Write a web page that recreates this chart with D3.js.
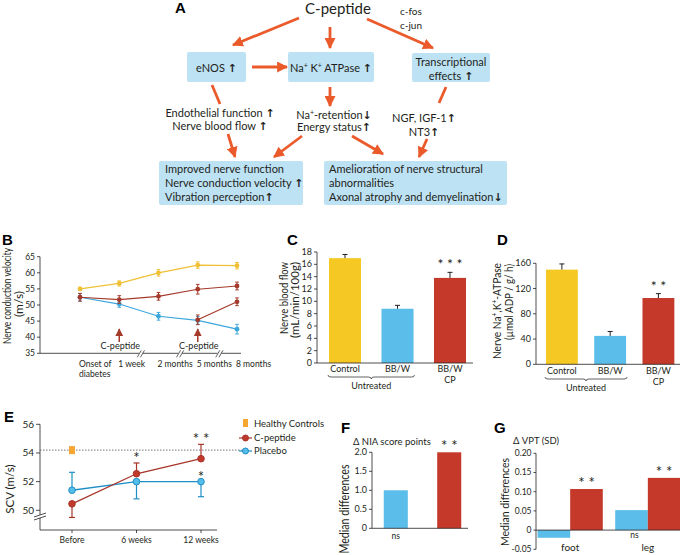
<!DOCTYPE html>
<html><head><meta charset="utf-8">
<script src="https://cdn.jsdelivr.net/npm/d3@7"></script>
<style>
body{margin:0;background:#fff}
svg{display:block}
text{font-family:Lato,"Open Sans",sans-serif;fill:#231f20}
.lbl{font-family:"Liberation Sans",Arial,sans-serif;font-weight:bold;font-size:15px;fill:#000}
</style>
</head><body><script>
// ---------------- DATA ----------------
const bCategories = ["Onset of|diabetes", "1 week", "2 months", "5 months", "8 months"];
const bYTicks = [35, 40, 45, 50, 55, 60, 65];
const bHealthy = [55.0, 56.7, 60.0, 62.4, 62.2];
const bHealthyErr = [0.5, 0.8, 1.0, 1.0, 1.0];
const bEarlyCP = [52.4, 51.7, 52.7, 54.9, 55.9];
const bEarlyCPErr = [1.2, 1.2, 1.2, 1.5, 1.2];
const bUntreated = [52.4, 50.3, 46.5, 45.2, 42.5];
const bUntreatedErr = [1.2, 1.0, 1.2, 1.2, 1.5];
const bLateCP = [null, null, null, 45.4, 51.0];
const bLateCPErr = [null, null, null, 1.5, 1.2];
const bArrowAt = ["1 week", "5 months"];

const cCategories = ["Control", "BB/W", "BB/W|CP"];
const cValues = [17.0, 8.8, 13.8];
const cErr = [0.6, 0.55, 0.9];
const cSig = ["", "", "***"];
const cYTicks = [0, 2, 4, 6, 8, 10, 12, 14, 16, 18];

const dCategories = ["Control", "BB/W", "BB/W|CP"];
const dValues = [150, 45, 105];
const dErr = [9, 7, 7];
const dSig = ["", "", "**"];
const dYTicks = [0, 40, 80, 120, 160];

const eCategories = ["Before", "6 weeks", "12 weeks"];
const eCPeptide = [50.45, 52.55, 53.6];
const eCPeptideErr = [-0.95, 0.75, 1.0];   // sign = direction of the drawn half bar
const ePlacebo = [51.4, 52.0, 52.0];
const ePlaceboErr = [1.25, -1.2, -1.05];
const eHealthy = [54.2];
const eSigCP = ["", "*", "**"];
const eSigPl = ["", "", "*"];
const eYTicks = [50, 52, 54, 56];
const eLegend = ["Healthy Controls", "C-peptide", "Placebo"];

const fCategories = ["Placebo", "C-peptide"];
const fValues = [1.0, 2.0];
const fXLabels = ["ns", ""];
const fSig = ["", "**"];
const fYTicks = [0, 0.5, 1.0, 1.5, 2.0];

const gGroups = ["foot", "leg"];
const gPlacebo = [-0.02, 0.052];
const gCPeptide = [0.107, 0.136];
const gSig = ["**", "**"];
const gNs = ["", "ns"];
const gYTicks = [-0.05, 0, 0.05, 0.10, 0.15, 0.20];

// ---------------- STYLE ----------------
const ORANGE = "#eb5a2b", BOX = "#bde2f4";
const YEL = "#f5c823", BLU = "#5bbde9", RED = "#c4392a";
const LYEL = "#f0c034", LBRN = "#a53a2b", LBLU = "#3ba7dc";
const INK = "#231f20";

const svg = d3.select("body").append("svg").attr("width", 680).attr("height", 555);
svg.append("rect").attr("width", 680).attr("height", 555).attr("fill", "#fff");
const defs = svg.append("defs");
function marker(id, color, size) {
  defs.append("marker").attr("id", id).attr("markerUnits", "userSpaceOnUse")
    .attr("viewBox", "0 0 10 10").attr("refX", 9).attr("refY", 5)
    .attr("markerWidth", size).attr("markerHeight", size).attr("orient", "auto")
    .append("path").attr("d", "M0,0L10,5L0,10Z").attr("fill", color);
}
marker("ah", ORANGE, 11);
marker("ahr", LBRN, 8);

function arrowTxt(sel, ch) {
  sel.append("tspan").attr("font-family", "DejaVu Sans").attr("font-weight", "bold").text(ch);
}

// ---------------- PANEL A ----------------
const A = svg.append("g");
A.append("text").attr("class", "lbl").attr("x", 175).attr("y", 13).text("A");
A.append("text").attr("x", 338).attr("y", 14).attr("text-anchor", "middle").attr("font-size", 15).text("C-peptide");
A.append("text").attr("x", 400).attr("y", 15).attr("font-size", 10).text("c-fos");
A.append("text").attr("x", 400).attr("y", 29).attr("font-size", 10).text("c-jun");

const boxes = [[187, 52, 59, 30], [288, 52, 86, 30], [412, 53, 78, 29], [159, 161, 144, 44], [324, 161, 183, 44]];
A.selectAll("rect.box").data(boxes).join("rect").attr("class", "box")
  .attr("x", d => d[0]).attr("y", d => d[1]).attr("width", d => d[2]).attr("height", d => d[3])
  .attr("rx", 2).attr("fill", BOX);

let t = A.append("text").attr("x", 216.5).attr("y", 71.5).attr("text-anchor", "middle").attr("font-size", 11);
t.append("tspan").text("eNOS "); arrowTxt(t, "↑");
t = A.append("text").attr("x", 331).attr("y", 71.5).attr("text-anchor", "middle").attr("font-size", 11);
t.append("tspan").text("Na"); t.append("tspan").attr("dy", -4).attr("font-size", 7).text("+");
t.append("tspan").attr("dy", 4).text(" K"); t.append("tspan").attr("dy", -4).attr("font-size", 7).text("+");
t.append("tspan").attr("dy", 4).text(" ATPase  "); arrowTxt(t, "↑");
A.append("text").attr("x", 451).attr("y", 66).attr("text-anchor", "middle").attr("font-size", 11).text("Transcriptional");
t = A.append("text").attr("x", 451).attr("y", 80).attr("text-anchor", "middle").attr("font-size", 11);
t.append("tspan").text("effects "); arrowTxt(t, "↑");

t = A.append("text").attr("x", 220).attr("y", 117).attr("text-anchor", "middle").attr("font-size", 11);
t.append("tspan").text("Endothelial function "); arrowTxt(t, "↑");
t = A.append("text").attr("x", 220).attr("y", 130).attr("text-anchor", "middle").attr("font-size", 11);
t.append("tspan").text("Nerve blood flow "); arrowTxt(t, "↑");
t = A.append("text").attr("x", 334).attr("y", 119).attr("text-anchor", "middle").attr("font-size", 11);
t.append("tspan").text("Na"); t.append("tspan").attr("dy", -4).attr("font-size", 7).text("+");
t.append("tspan").attr("dy", 4).text("-retention"); arrowTxt(t, "↓");
t = A.append("text").attr("x", 334).attr("y", 131).attr("text-anchor", "middle").attr("font-size", 11);
t.append("tspan").text("Energy status"); arrowTxt(t, "↑");
t = A.append("text").attr("x", 424).attr("y", 122).attr("text-anchor", "middle").attr("font-size", 11);
t.append("tspan").text("NGF, IGF-1"); arrowTxt(t, "↑");
t = A.append("text").attr("x", 424).attr("y", 136).attr("text-anchor", "middle").attr("font-size", 11);
t.append("tspan").text("NT3"); arrowTxt(t, "↑");

const bl = ["Improved nerve function", "Nerve conduction velocity ", "Vibration perception"];
const blArr = ["", "↑", "↑"];
bl.forEach((s, i) => {
  const tt = A.append("text").attr("x", 165).attr("y", 173 + i * 14).attr("font-size", 11);
  tt.append("tspan").text(s); if (blArr[i]) arrowTxt(tt, blArr[i]);
});
const br = ["Amelioration of nerve structural", "abnormalities", "Axonal atrophy and demyelination"];
const brArr = ["", "", "↓"];
br.forEach((s, i) => {
  const tt = A.append("text").attr("x", 329).attr("y", 173 + i * 14).attr("font-size", 11);
  tt.append("tspan").text(s); if (brArr[i]) arrowTxt(tt, brArr[i]);
});

const arrows = [
  [299, 18, 233, 45, 1], [330, 27, 330, 48, 1], [367, 19, 433, 48, 1], [252, 67, 287, 67, 1],
  [212, 85, 220, 104, 0], [330, 87, 330, 106, 1], [446, 87, 439, 103, 0],
  [228, 134, 235, 157, 1], [302, 136, 274, 157, 1], [352, 136, 383, 154, 1], [427, 139, 419, 157, 1]
];
A.selectAll("line.ar").data(arrows).join("line").attr("class", "ar")
  .attr("x1", d => d[0]).attr("y1", d => d[1]).attr("x2", d => d[2]).attr("y2", d => d[3])
  .attr("stroke", ORANGE).attr("stroke-width", 2.8)
  .attr("marker-end", d => d[4] ? "url(#ah)" : null);

// ---------------- helpers ----------------
function yAxisTicks(g, y, ticks, x, fmt, fs, len) {
  g.append("line").attr("x1", x).attr("x2", x).attr("y1", y(d3.min(ticks))).attr("y2", y(d3.max(ticks)))
    .attr("stroke", INK).attr("stroke-width", 0.8);
  g.selectAll(null).data(ticks).join("line").attr("x1", x - len).attr("x2", x)
    .attr("y1", d => y(d)).attr("y2", d => y(d)).attr("stroke", INK).attr("stroke-width", 0.8);
  g.selectAll(null).data(ticks).join("text").attr("x", x - len - 2).attr("y", d => y(d) + fs * 0.35)
    .attr("text-anchor", "end").attr("font-size", fs).text(fmt);
}
function rotTitle(g, lines, xs, ycs, fs, lens) {
  lines.forEach((s, i) => {
    const tt = g.append("text").attr("transform", `translate(${xs[i]},${ycs[i]}) rotate(-90)`)
      .attr("text-anchor", "middle").attr("font-size", fs).text(s);
    if (lens && lens[i]) tt.attr("textLength", lens[i]).attr("lengthAdjust", "spacingAndGlyphs");
  });
}
function errBar(g, x, y0, y1, cap, color, w) {
  g.append("line").attr("x1", x).attr("x2", x).attr("y1", y0).attr("y2", y1).attr("stroke", color).attr("stroke-width", w);
  g.append("line").attr("x1", x - cap).attr("x2", x + cap).attr("y1", y1).attr("y2", y1).attr("stroke", color).attr("stroke-width", w);
}

// ---------------- PANEL B ----------------
const B = svg.append("g");
B.append("text").attr("class", "lbl").attr("x", 2).attr("y", 245).text("B");
const bx = d3.scalePoint().domain(bCategories).range([80, 237]);
const by = d3.scaleLinear().domain([35, 65]).range([353.3, 256.7]);
yAxisTicks(B, by, bYTicks, 40, d => d, 8.5, 3);
B.append("line").attr("x1", 40).attr("x2", 241).attr("y1", by(35)).attr("y2", by(35)).attr("stroke", INK).attr("stroke-width", 0.8);
rotTitle(B, ["Nerve conduction velocity", "(m/s)"], [11, 23], [296, 304], 12, [96, 26]);
bCategories.forEach((c, i) => {
  c.split("|").forEach((s, j) => {
    B.append("text").attr("x", bx(c) - 1).attr("y", 367 + j * 10).attr("font-size", 8.5).text(s);
  });
});
const bBreaks = bCategories.slice(1, 4).map((c, i) => (bx(c) + bx(bCategories[i + 2])) / 2 + 2);
bBreaks.forEach(x => {
  B.append("rect").attr("x", x - 2).attr("y", by(35) - 1).attr("width", 4).attr("height", 2).attr("fill", "#fff");
  [-1.6, 1.6].forEach(o => B.append("line").attr("x1", x + o - 2).attr("x2", x + o + 2).attr("y1", by(35) + 4).attr("y2", by(35) - 3)
    .attr("stroke", INK).attr("stroke-width", 0.7));
});
function bSeries(vals, errs, color) {
  const pts = bCategories.map((c, i) => ({ c, v: vals[i], e: errs[i] })).filter(d => d.v != null);
  B.append("path").datum(pts).attr("fill", "none").attr("stroke", color).attr("stroke-width", 1.2)
    .attr("d", d3.line().x(d => bx(d.c)).y(d => by(d.v)));
  pts.forEach(d => {
    B.append("line").attr("x1", bx(d.c)).attr("x2", bx(d.c)).attr("y1", by(d.v - d.e)).attr("y2", by(d.v + d.e)).attr("stroke", color).attr("stroke-width", 1);
    [d.v - d.e, d.v + d.e].forEach(v => B.append("line").attr("x1", bx(d.c) - 1.8).attr("x2", bx(d.c) + 1.8)
      .attr("y1", by(v)).attr("y2", by(v)).attr("stroke", color).attr("stroke-width", 1));
    B.append("circle").attr("cx", bx(d.c)).attr("cy", by(d.v)).attr("r", 2.4).attr("fill", color);
  });
}
bSeries(bUntreated, bUntreatedErr, LBLU);
bSeries(bEarlyCP, bEarlyCPErr, LBRN);
bSeries(bLateCP, bLateCPErr, LBRN);
bSeries(bHealthy, bHealthyErr, LYEL);
bArrowAt.forEach(c => {
  B.append("line").attr("x1", bx(c)).attr("x2", bx(c)).attr("y1", 342).attr("y2", 329)
    .attr("stroke", LBRN).attr("stroke-width", 1.5).attr("marker-end", "url(#ahr)");
  B.append("text").attr("x", bx(c) + 1).attr("y", 349).attr("text-anchor", "middle").attr("font-size", 9).text("C-peptide");
});

// ---------------- bar panels C, D ----------------
function bracePath(x1, x2, y) {
  const m = (x1 + x2) / 2;
  return `M${x1},${y - 2} Q${x1},${y} ${x1 + 3},${y} L${m - 3},${y} Q${m},${y} ${m},${y + 2} Q${m},${y} ${m + 3},${y} L${x2 - 3},${y} Q${x2},${y} ${x2},${y - 2}`;
}
function barPanel(cfg) {
  const g = svg.append("g");
  g.append("text").attr("class", "lbl").attr("x", cfg.lx).attr("y", 245).text(cfg.letter);
  const x = d3.scaleBand().domain(cfg.cats).range(cfg.xr).paddingInner(cfg.pi).paddingOuter(0.2);
  const y = d3.scaleLinear().domain(cfg.yd).range(cfg.yr);
  const cols = [YEL, BLU, RED];
  g.selectAll(null).data(cfg.vals).join("rect")
    .attr("x", (d, i) => x(cfg.cats[i])).attr("width", x.bandwidth())
    .attr("y", d => y(d)).attr("height", d => y(0) - y(d)).attr("fill", (d, i) => cols[i]);
  cfg.vals.forEach((v, i) => {
    const cx = x(cfg.cats[i]) + x.bandwidth() / 2;
    errBar(g, cx, y(v), y(v + cfg.err[i]), 2.5, INK, 1);
    if (cfg.sig[i]) g.append("text").attr("x", cx).attr("y", y(v + cfg.err[i]) - 3).attr("text-anchor", "middle")
      .attr("font-size", 14).attr("font-family", "DejaVu Sans").attr("fill", "#333").text(cfg.sig[i].split("").join(" "));
    cfg.cats[i].split("|").forEach((s, j) => g.append("text").attr("x", cx).attr("y", cfg.labY + j * 11)
      .attr("text-anchor", "middle").attr("font-size", 9).text(s));
  });
  yAxisTicks(g, y, cfg.ticks, cfg.ax, d => d, 9, 3);
  g.append("line").attr("x1", cfg.ax).attr("x2", cfg.axEnd).attr("y1", y(0)).attr("y2", y(0)).attr("stroke", INK).attr("stroke-width", 0.8);
  const b0 = x(cfg.cats[0]) - 1, b1 = x(cfg.cats[1]) + x.bandwidth() + 1;
  g.append("path").attr("d", bracePath(b0, b1, cfg.labY + 5)).attr("fill", "none").attr("stroke", INK).attr("stroke-width", 0.7);
  g.append("text").attr("x", (b0 + b1) / 2).attr("y", cfg.labY + 17).attr("text-anchor", "middle").attr("font-size", 9).text("Untreated");
  return g;
}
const C = barPanel({ letter: "C", lx: 287, cats: cCategories, vals: cValues, err: cErr, sig: cSig, ticks: cYTicks,
  xr: [318.5, 476.5], pi: 0.39, yd: [0, 18], yr: [363, 252], ax: 317, axEnd: 473, labY: 372 });
rotTitle(C, ["Nerve blood flow", "(mL/min/100g)"], [288, 299], [298, 300], 11.5, [72, 76]);
const D = barPanel({ letter: "D", lx: 497, cats: dCategories, vals: dValues, err: dErr, sig: dSig, ticks: dYTicks,
  xr: [536.3, 684], pi: 0.34, yd: [0, 160], yr: [364.3, 263.3], ax: 536, axEnd: 680, labY: 374 });
{
  const tt = D.append("text").attr("transform", "translate(501,311) rotate(-90)").attr("text-anchor", "middle")
    .attr("font-size", 11.5).attr("textLength", 96).attr("lengthAdjust", "spacingAndGlyphs");
  tt.append("tspan").text("Nerve Na"); tt.append("tspan").attr("dy", -4).attr("font-size", 7.5).text("+");
  tt.append("tspan").attr("dy", 4).text(",K"); tt.append("tspan").attr("dy", -4).attr("font-size", 7.5).text("+");
  tt.append("tspan").attr("dy", 4).text("-ATPase");
  D.append("text").attr("transform", "translate(513,302) rotate(-90)").attr("text-anchor", "middle").attr("font-size", 11.5)
    .attr("textLength", 76).attr("lengthAdjust", "spacingAndGlyphs").text("(µmol ADP / g/ h)");
}

// ---------------- PANEL E ----------------
const E = svg.append("g");
E.append("text").attr("class", "lbl").attr("x", 4).attr("y", 422).text("E");
const ex = d3.scalePoint().domain(eCategories).range([72, 201]);
const ey = d3.scaleLinear().domain([50, 56]).range([510.3, 424.3]);
E.append("line").attr("x1", 40).attr("x2", 40).attr("y1", ey(56)).attr("y2", 530).attr("stroke", INK).attr("stroke-width", 0.8);
E.selectAll(null).data(eYTicks).join("line").attr("x1", 36).attr("x2", 40).attr("y1", d => ey(d)).attr("y2", d => ey(d)).attr("stroke", INK).attr("stroke-width", 0.8);
E.selectAll(null).data(eYTicks).join("text").attr("x", 34).attr("y", d => ey(d) + 3.5).attr("text-anchor", "end").attr("font-size", 10).text(d => d);
E.append("rect").attr("x", 34).attr("y", 515).attr("width", 12).attr("height", 3).attr("fill", "#fff");
[515, 518].forEach(yy => E.append("line").attr("x1", 34).attr("x2", 46).attr("y1", yy + 2).attr("y2", yy - 2).attr("stroke", INK).attr("stroke-width", 0.8));
E.append("line").attr("x1", 40).attr("x2", 217).attr("y1", 530).attr("y2", 530).attr("stroke", INK).attr("stroke-width", 0.8);
eCategories.forEach(c => {
  E.append("line").attr("x1", ex(c)).attr("x2", ex(c)).attr("y1", 530).attr("y2", 533).attr("stroke", INK).attr("stroke-width", 0.8);
  E.append("text").attr("x", ex(c)).attr("y", 543).attr("text-anchor", "middle").attr("font-size", 8.5).text(c);
});
E.append("line").attr("x1", 40).attr("x2", 247).attr("y1", ey(eHealthy[0])).attr("y2", ey(eHealthy[0]))
  .attr("stroke", "#666").attr("stroke-width", 0.9).attr("stroke-dasharray", "1.5,1.5");
rotTitle(E, ["SCV (m/s)"], [14], [489], 11.5);
function eSeries(vals, errs, color, fill, sig) {
  const pts = eCategories.map((c, i) => ({ c, v: vals[i], e: errs[i], s: sig[i] }));
  E.append("path").datum(pts).attr("fill", "none").attr("stroke", color).attr("stroke-width", 1.3)
    .attr("d", d3.line().x(d => ex(d.c)).y(d => ey(d.v)));
  pts.forEach(d => errBar(E, ex(d.c), ey(d.v), ey(d.v + d.e), 3, color, 1.2));
  pts.forEach(d => {
    E.append("circle").attr("cx", ex(d.c)).attr("cy", ey(d.v)).attr("r", 3.3).attr("fill", fill).attr("stroke", color).attr("stroke-width", 1);
    if (d.s) {
      const top = d.e > 0 ? ey(d.v + d.e) : ey(d.v);
      E.append("text").attr("x", ex(d.c)).attr("y", top).attr("text-anchor", "middle").attr("font-size", 15)
        .attr("font-family", "DejaVu Sans").attr("fill", "#333").text(d.s.split("").join(" "));
    }
  });
}
eSeries(ePlacebo, ePlaceboErr, "#1f8fc6", "#56bde9", eSigPl);
eSeries(eCPeptide, eCPeptideErr, "#a8352a", "#c0392b", eSigCP);
E.append("rect").attr("x", 69).attr("y", ey(eHealthy[0]) - 4).attr("width", 6).attr("height", 8).attr("fill", "#f6a631");
// legend
E.append("rect").attr("x", 243).attr("y", 419).attr("width", 5).attr("height", 8).attr("fill", "#f6a631");
const legC = [["#a8352a", "#c0392b", 438], ["#1f8fc6", "#56bde9", 451]];
legC.forEach(l => {
  E.append("line").attr("x1", 239).attr("x2", 252).attr("y1", l[2]).attr("y2", l[2]).attr("stroke", l[0]).attr("stroke-width", 1.2);
  E.append("circle").attr("cx", 245.5).attr("cy", l[2]).attr("r", 3).attr("fill", l[1]).attr("stroke", l[0]);
});
eLegend.forEach((s, i) => E.append("text").attr("x", 254).attr("y", 427 + i * 13.5).attr("font-size", 9.5).text(s));

// ---------------- PANEL F ----------------
const F = svg.append("g");
F.append("text").attr("class", "lbl").attr("x", 341).attr("y", 433).text("F");
const fx = d3.scaleBand().domain(fCategories).range([372, 473]).paddingInner(0.55).paddingOuter(0.22);
const fy = d3.scaleLinear().domain([0, 2]).range([528.3, 452.3]);
F.selectAll(null).data(fValues).join("rect").attr("x", (d, i) => fx(fCategories[i])).attr("width", fx.bandwidth())
  .attr("y", d => fy(d)).attr("height", d => fy(0) - fy(d)).attr("fill", (d, i) => [BLU, RED][i]);
yAxisTicks(F, fy, fYTicks, 372, d => d === 0 ? "0" : d.toFixed(1), 9, 3);
F.append("line").attr("x1", 372).attr("x2", 468).attr("y1", fy(0)).attr("y2", fy(0)).attr("stroke", INK).attr("stroke-width", 0.8);
fValues.forEach((v, i) => {
  const cx = fx(fCategories[i]) + fx.bandwidth() / 2;
  if (fXLabels[i]) F.append("text").attr("x", cx).attr("y", 539).attr("text-anchor", "middle").attr("font-size", 8.5).text(fXLabels[i]);
  if (fSig[i]) F.append("text").attr("x", cx).attr("y", fy(v) - 1).attr("text-anchor", "middle").attr("font-size", 15)
    .attr("font-family", "DejaVu Sans").attr("fill", "#333").text(fSig[i].split("").join(" "));
});
F.append("text").attr("x", 353).attr("y", 445).attr("font-size", 9.5).text("Δ  NIA score points");
rotTitle(F, ["Median differences"], [349], [509], 12.5, [89]);

// ---------------- PANEL G ----------------
const G = svg.append("g");
G.append("text").attr("class", "lbl").attr("x", 494).attr("y", 433).text("G");
const gx = d3.scaleBand().domain(gGroups).range([536, 682]).paddingInner(0.16).paddingOuter(0.02);
const gsub = d3.scaleBand().domain(["pl", "cp"]).range([0, gx.bandwidth()]);
const gy = d3.scaleLinear().domain([-0.05, 0.20]).range([549.3, 453.3]);
gGroups.forEach((grp, i) => {
  [["pl", gPlacebo[i], BLU], ["cp", gCPeptide[i], RED]].forEach(([k, v, col]) => {
    G.append("rect").attr("x", gx(grp) + gsub(k)).attr("width", gsub.bandwidth())
      .attr("y", gy(Math.max(0, v))).attr("height", Math.abs(gy(v) - gy(0))).attr("fill", col);
  });
  const cpx = gx(grp) + gsub("cp") + gsub.bandwidth() / 2;
  G.append("text").attr("x", cpx).attr("y", gy(gCPeptide[i]) - 1).attr("text-anchor", "middle").attr("font-size", 15)
    .attr("font-family", "DejaVu Sans").attr("fill", "#333").text(gSig[i].split("").join(" "));
  if (gNs[i]) G.append("text").attr("x", gx(grp) + gsub("pl") + gsub.bandwidth() / 2 + 3).attr("y", 538).attr("text-anchor", "middle").attr("font-size", 8.5).text(gNs[i]);
  G.append("text").attr("x", gx(grp) + gx.bandwidth() / 2).attr("y", 551).attr("text-anchor", "middle").attr("font-size", 10).text(grp);
});
yAxisTicks(G, gy, gYTicks, 536, d => d === 0 ? "0" : d.toFixed(2), 8.5, 2.5);
G.append("line").attr("x1", 536).attr("x2", 680).attr("y1", gy(0)).attr("y2", gy(0)).attr("stroke", INK).attr("stroke-width", 0.8);
G.append("text").attr("x", 513).attr("y", 444).attr("font-size", 9.5).text("Δ VPT (SD)");
rotTitle(G, ["Median differences"], [509], [502], 12, [88]);
</script></body></html>
